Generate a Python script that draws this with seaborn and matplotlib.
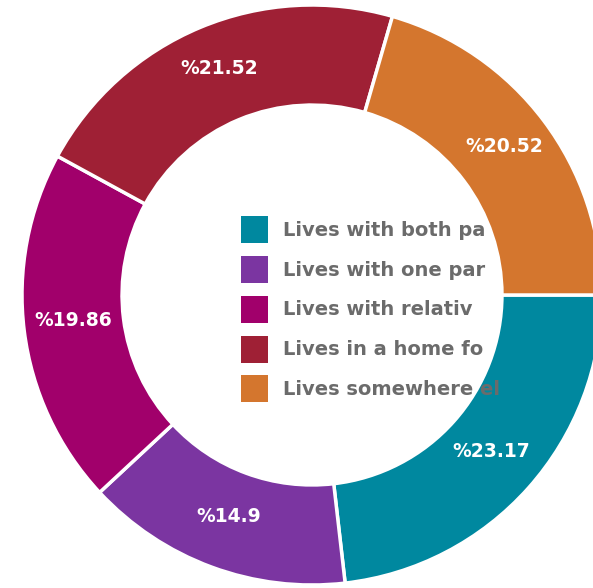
import matplotlib
matplotlib.use("Agg")
import matplotlib.pyplot as plt
import seaborn as sns
import numpy as np

# data
categories = ["Lives with both pa", "Lives with one par", "Lives with relativ",
              "Lives in a home fo", "Lives somewhere el"]
shares = [23.17, 14.9, 19.86, 21.52, 20.52]
labels = ["%23.17", "%14.9", "%19.86", "%21.52", "%20.52"]
colors = ["#00889f", "#7b35a1", "#a1006b", "#9f2035", "#d4762e"]

sns.set_theme(style="white")
plt.rcParams["font.family"] = ["DejaVu Sans"]

W, H = 593, 588
fig = plt.figure(figsize=(W / 100, H / 100), dpi=100)
# ring centre at (312, 295) px from top-left, outer radius 290 px
cx, cy, r = 312, 295, 290
ax = fig.add_axes([(cx - r) / W, (H - cy - r) / H, 2 * r / W, 2 * r / H])

wedges, _ = ax.pie(shares, colors=colors, startangle=0, counterclock=False,
                   radius=1, wedgeprops=dict(width=0.345, edgecolor="white", linewidth=2.5))
ax.set_xlim(-1, 1)
ax.set_ylim(-1, 1)
ax.set_aspect("equal")
ax.axis("off")

# value labels in the middle of the ring
start = 0.0
total = sum(shares)
for v, lab in zip(shares, labels):
    mid = start - v / total * 360 / 2
    start -= v / total * 360
    rr = 0.83
    ax.text(rr * np.cos(np.radians(mid)), rr * np.sin(np.radians(mid)) + 0.014, lab,
            color="white", fontsize=13.5, fontweight="bold",
            ha="center", va="center")

leg = ax.legend(wedges, categories, loc="upper left",
                bbox_to_anchor=(241 / W, 1 - 216 / H), bbox_transform=fig.transFigure,
                frameon=False, fontsize=14, handlelength=1.39, handleheight=1.76,
                handletextpad=0.75, labelspacing=0.66, borderpad=0, borderaxespad=0)
for t in leg.get_texts():
    t.set_color("#6b6b6b")
    t.set_fontweight("bold")
for h in leg.legend_handles:
    h.set_edgecolor("none")

fig.savefig("out.png", dpi=100)
